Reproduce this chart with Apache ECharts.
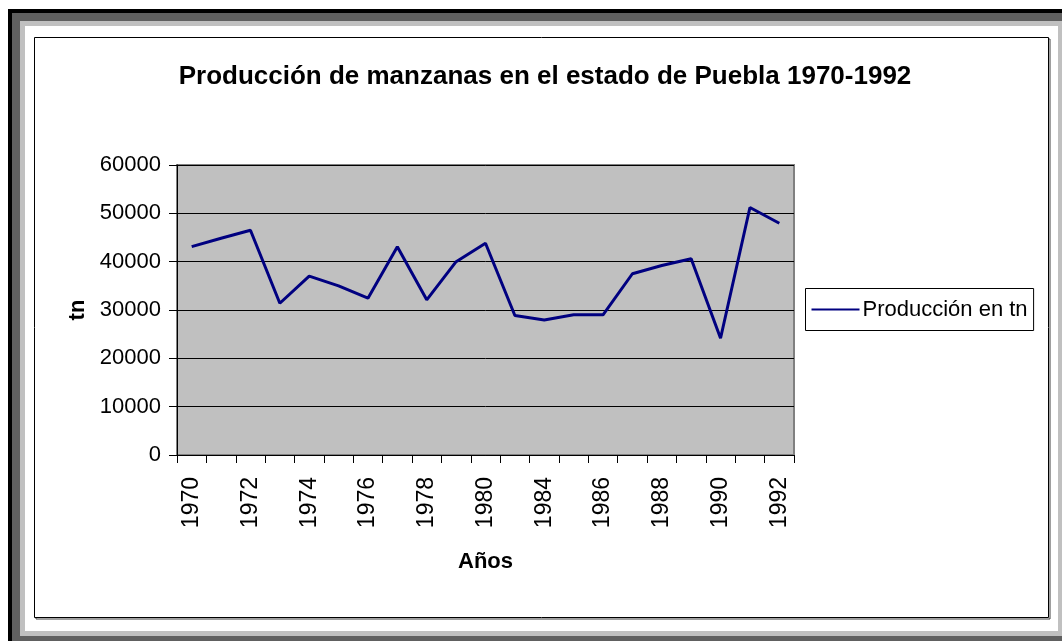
<!DOCTYPE html>
<html>
<head>
<meta charset="utf-8">
<title>Producción de manzanas en el estado de Puebla 1970-1992</title>
<script src="https://cdn.jsdelivr.net/npm/echarts@6/dist/echarts.min.js"></script>
<style>
  html, body { margin: 0; padding: 0; background: #ffffff; }
  #chart { width: 1062px; height: 641px; }
</style>
</head>
<body>
<div id="chart"></div>
<script>
// Years on the category axis (the early-80s gap is kept as a single step)
const years = ['1970', '1971', '1972', '1973', '1974', '1975', '1976', '1977', '1978', '1979',
  '1980', '1982', '1984', '1985', '1986', '1987', '1988', '1989', '1990', '1991', '1992'];

// Apple production in tonnes
const production = [43100, 44850, 46500, 31400, 37000, 35000, 32450, 43100, 32100, 40000,
  43800, 28850, 27950, 29000, 29000, 37500, 39200, 40600, 24150, 51200, 47950];

const titleText = 'Producción de manzanas en el estado de Puebla 1970-1992';
const seriesName = 'Producción en tn';
const xName = 'Años';
const yName = 'tn';

const FONT = "'Liberation Sans', Arial, sans-serif";

const chart = echarts.init(document.getElementById('chart'), null, { renderer: 'canvas' });

// Window-style frame drawn behind the chart
const frame = [
  { type: 'rect', z: -20, shape: { x: 8, y: 9, width: 1100, height: 700 }, style: { fill: '#000000' }, silent: true },
  { type: 'rect', z: -19, shape: { x: 12, y: 13, width: 1100, height: 700 }, style: { fill: '#606060' }, silent: true },
  { type: 'rect', z: -18, shape: { x: 20, y: 21, width: 1100, height: 615 }, style: { fill: '#c0c0c0' }, silent: true },
  { type: 'rect', z: -17, shape: { x: 25, y: 26, width: 1033, height: 605 }, style: { fill: '#ffffff' }, silent: true },
  { type: 'rect', z: -16, shape: { x: 36, y: 39, width: 1014, height: 580 }, style: { fill: 'none', stroke: '#404040', lineWidth: 1 }, silent: true },
  { type: 'rect', z: -15, shape: { x: 34.5, y: 37.5, width: 1014, height: 580 }, style: { fill: '#ffffff', stroke: '#000000', lineWidth: 1 }, silent: true }
];

chart.setOption({
  animation: false,
  textStyle: { fontFamily: FONT, color: '#000' },
  graphic: { elements: frame },
  title: {
    text: titleText,
    left: 545,
    top: 64,
    padding: 0,
    textAlign: 'center',
    textStyle: { fontFamily: FONT, fontSize: 26, fontWeight: 'bold', color: '#000' }
  },
  legend: {
    left: 805.5,
    top: 288.5,
    orient: 'vertical',
    padding: [10, 6, 10, 6],
    borderColor: '#000',
    borderWidth: 1,
    backgroundColor: '#fff',
    itemWidth: 48,
    itemHeight: 14,
    icon: 'path://M0,6 L48,6 L48,8 L0,8 Z',
    itemStyle: { color: '#000080' },
    textStyle: { fontFamily: FONT, fontSize: 22, color: '#000', lineHeight: 22, padding: [0, 0, 0, -2] },
    data: [seriesName]
  },
  grid: {
    left: 177,
    top: 165,
    width: 617,
    height: 290,
    show: true,
    backgroundColor: '#c0c0c0',
    borderColor: '#808080',
    borderWidth: 2
  },
  xAxis: {
    type: 'category',
    data: years,
    boundaryGap: true,
    name: xName,
    nameLocation: 'middle',
    nameGap: 96,
    nameTextStyle: { fontFamily: FONT, fontSize: 22, fontWeight: 'bold', color: '#000' },
    axisLine: { show: true, lineStyle: { color: '#000', width: 1 } },
    axisTick: { show: true, interval: 0, length: 8, lineStyle: { color: '#000' } },
    axisLabel: {
      interval: 1,
      rotate: 90,
      margin: 22,
      fontFamily: FONT,
      fontSize: 23,
      color: '#000',
      padding: [12, 0, 0, 0]
    },
    splitLine: { show: false }
  },
  yAxis: {
    type: 'value',
    min: 0,
    max: 60000,
    interval: 10000,
    name: yName,
    nameLocation: 'middle',
    nameGap: 82,
    nameTextStyle: { fontFamily: FONT, fontSize: 22, fontWeight: 'bold', color: '#000' },
    axisLine: { show: true, lineStyle: { color: '#000', width: 1 } },
    axisTick: { show: true, length: 8, lineStyle: { color: '#000' } },
    axisLabel: {
      margin: 16,
      fontFamily: FONT,
      fontSize: 22,
      color: '#000',
      formatter: (v) => String(v)
    },
    splitLine: { show: true, lineStyle: { color: '#000', width: 1 } }
  },
  series: [{
    name: seriesName,
    type: 'line',
    data: production,
    symbol: 'none',
    lineStyle: { color: '#000080', width: 3 },
    itemStyle: { color: '#000080' }
  }]
});
</script>
</body>
</html>
